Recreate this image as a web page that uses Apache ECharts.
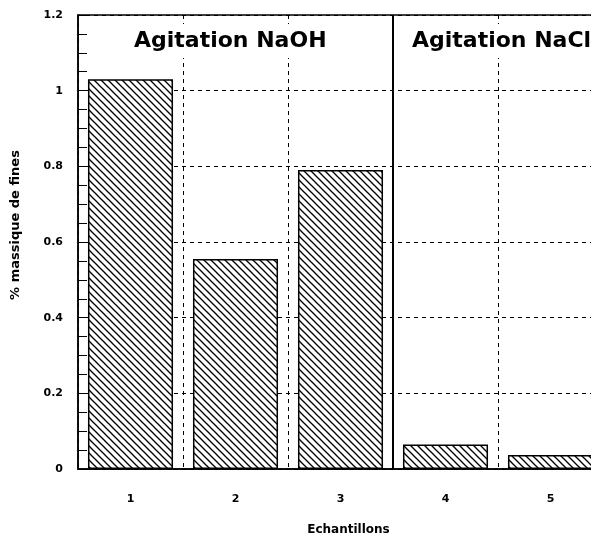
<!DOCTYPE html>
<html>
<head>
<meta charset="utf-8">
<script src="https://cdn.jsdelivr.net/npm/echarts@6/dist/echarts.min.js"></script>
<style>html,body{margin:0;padding:0;background:#fff;}#c{width:591px;height:541px;}</style>
</head>
<body>
<div id="c"></div>
<script>
var categories = ['1', '2', '3', '4', '5'];
var fines = [1.03, 0.555, 0.79, 0.065, 0.037];
var groupSeparator = [3.5];
var groupTitles = ['Agitation NaOH', 'Agitation NaCl'];
var yTicks = [0, 0.2, 0.4, 0.6, 0.8, 1, 1.2];

var FONT = '"DejaVu Sans", "Liberation Sans", Arial, sans-serif';

function hatch() {
  var s = 7;
  var cv = document.createElement('canvas');
  cv.width = s; cv.height = s;
  var ctx = cv.getContext('2d');
  ctx.fillStyle = '#fff';
  ctx.fillRect(0, 0, s, s);
  ctx.strokeStyle = '#000';
  ctx.lineWidth = 1.3;
  [-s, 0, s].forEach(function (k) {
    ctx.beginPath();
    ctx.moveTo(-1, k - 1);
    ctx.lineTo(s + 1, s + k + 1);
    ctx.stroke();
  });
  return cv;
}

var chart = echarts.init(document.getElementById('c'), null, {renderer: 'canvas'});
chart.setOption({
  animation: false,
  backgroundColor: '#fff',
  title: [
    {text: groupTitles[0], left: 130, top: 24, padding: [6, 4],
     backgroundColor: '#fff',
     textStyle: {fontFamily: FONT, fontWeight: 'bold', fontSize: 22, color: '#000'}},
    {text: groupTitles[1], left: 408, top: 24, padding: [6, 4],
     backgroundColor: '#fff',
     textStyle: {fontFamily: FONT, fontWeight: 'bold', fontSize: 22, color: '#000'}}
  ],
  grid: {left: 78, top: 15, width: 525, height: 454, show: true,
         outerBoundsMode: 'none', containLabel: false,
         borderColor: '#000', borderWidth: 1.5},
  xAxis: [{
    type: 'category',
    data: categories,
    boundaryGap: true,
    axisLine: {lineStyle: {color: '#000', width: 1.5}},
    axisTick: {show: false},
    axisLabel: {margin: 25, fontFamily: FONT, fontWeight: 'bold', fontSize: 11, color: '#000'},
    splitLine: {show: true, lineStyle: {color: '#000', width: 1, type: [4, 4]}},
    name: 'Echantillons',
    nameLocation: 'middle',
    nameGap: 55,
    nameTextStyle: {fontFamily: FONT, fontWeight: 'bold', fontSize: 12, color: '#000', padding: [0, 0, 0, 16]}
  }, {
    type: 'value', min: 0.5, max: 5.5, show: false
  }],
  yAxis: {
    type: 'value',
    min: 0, max: 1.2, interval: 0.2,
    axisLine: {show: true, lineStyle: {color: '#000', width: 1.5}},
    axisTick: {show: true, inside: true, length: 9, lineStyle: {color: '#000', width: 1}},
    minorTick: {show: true, splitNumber: 4, length: 9, lineStyle: {color: '#000', width: 1}},
    axisLabel: {margin: 15, fontFamily: FONT, fontWeight: 'bold', fontSize: 11, color: '#000',
                formatter: function (v) { return yTicks.indexOf(+v.toFixed(1)) >= 0 ? String(+v.toFixed(1)) : ''; }},
    splitLine: {show: true, lineStyle: {color: '#000', width: 1, type: [4, 4]}},
    name: '% massique de fines',
    nameLocation: 'middle',
    nameGap: 56,
    nameTextStyle: {fontFamily: FONT, fontWeight: 'bold', fontSize: 13, color: '#000', padding: [0, 0, 0, 34]}
  },
  series: [{
    type: 'bar',
    data: fines,
    barCategoryGap: '19%',
    itemStyle: {color: {image: hatch(), repeat: 'repeat'}, borderColor: '#000', borderWidth: 1.5},
    z: 3
  }, {
    type: 'line',
    xAxisIndex: 1,
    data: [[groupSeparator[0], 0], [groupSeparator[0], 1.2]],
    symbol: 'none',
    lineStyle: {color: '#000', width: 2},
    z: 4
  }]
});
</script>
</body>
</html>
